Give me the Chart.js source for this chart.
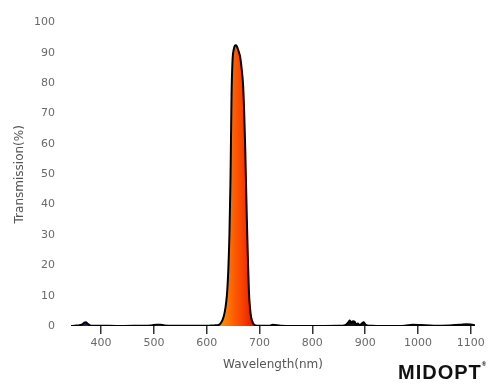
<!DOCTYPE html>
<html>
<head>
<meta charset="utf-8">
<script src="https://cdn.jsdelivr.net/npm/chart.js@4.4.1/dist/chart.umd.min.js"></script>
<style>
  html, body { margin: 0; padding: 0; background: #fff; }
  #wrap { position: relative; width: 500px; height: 388px; }
  #logo {
    position: absolute; left: 398px; top: 361px;
    font-family: "Liberation Sans", Arial, sans-serif; font-weight: bold;
    font-size: 20px; letter-spacing: 1px; color: #111;
  }
  #logo sup { font-size: 6px; vertical-align: top; }
</style>
</head>
<body>
<div id="wrap">
  <canvas id="chart" width="500" height="388"></canvas>
  <div id="logo">MIDOPT<sup>®</sup></div>
</div>
<script>
// courbe de transmission (nm / %)
const wavelengths = [343, 350, 358, 364, 368, 371, 374, 378, 385, 400, 430, 470, 495, 505, 512, 520, 560, 600, 615,
  622, 626, 630, 634, 637, 639, 641, 643, 645, 646, 647, 649, 651, 653, 655, 657, 659, 661, 663, 666, 669,
  671, 673, 674, 676, 678, 680, 682, 684, 687, 691, 700, 720, 725, 740, 800, 850, 862, 868, 871, 874, 877, 880,
  883, 886, 890, 894, 897, 900, 904, 912, 940, 975, 990, 1005, 1030, 1060, 1080, 1092, 1100, 1108];
const transmission = [0, 0.1, 0.2, 0.5, 1.1, 1.2, 0.8, 0.3, 0.1, 0.1, 0, 0.1, 0.2, 0.4, 0.4, 0.2, 0.1, 0.1, 0.2,
  0.3, 0.8, 2, 4.5, 8, 12, 19, 30, 48, 62, 76, 88, 91, 92.3, 92.5, 92.2, 91.3, 90.2, 89, 85, 79,
  70, 58, 50, 35, 22, 11, 6, 3, 1.2, 0.3, 0.1, 0.1, 0.4, 0.1, 0, 0.1, 0.3, 1.2, 1.8, 1.0, 1.6, 1.4,
  0.5, 0.8, 0.3, 0.9, 1.2, 0.6, 0.2, 0.1, 0, 0.1, 0.4, 0.3, 0.1, 0.2, 0.4, 0.6, 0.5, 0.2];
const xTicks = [400, 500, 600, 700, 800, 900, 1000, 1100];

// couleurs du spectre pour le remplissage
const spectrum = [
  [350, '#2a0a5e'], [380, '#3f1888'], [430, '#2a3ad0'], [480, '#0a9ae8'], [515, '#10c050'],
  [560, '#b8e010'], [595, '#ffc000'], [625, '#ff9600'], [650, '#ff6000'], [672, '#f53a00'],
  [690, '#d81800'], [710, '#a00000'], [760, '#111111']
];

function spectrumFill(context) {
  const chart = context.chart;
  if (!chart.chartArea) return null;
  const x = chart.scales.x;
  const a = x.getPixelForValue(350), b = x.getPixelForValue(760);
  const g = chart.ctx.createLinearGradient(a, 0, b, 0);
  spectrum.forEach(function (s) {
    g.addColorStop((s[0] - 350) / 410, s[1]);
  });
  return g;
}

const ctx = document.getElementById('chart').getContext('2d');
new Chart(ctx, {
  type: 'line',
  data: {
    datasets: [{
      data: wavelengths.map(function (w, i) { return { x: w, y: transmission[i] }; }),
      borderColor: '#000',
      borderWidth: 2,
      backgroundColor: spectrumFill,
      fill: 'origin',
      pointRadius: 0,
      tension: 0.4,
      cubicInterpolationMode: 'monotone'
    }]
  },
  options: {
    responsive: false,
    animation: false,
    layout: { padding: { left: 0, right: 25, top: 16, bottom: 0 } },
    plugins: { legend: { display: false }, tooltip: { enabled: false } },
    scales: {
      x: {
        type: 'linear',
        min: 343,
        max: 1108,
        afterBuildTicks: function (scale) {
          scale.ticks = xTicks.map(function (v) { return { value: v }; });
        },
        afterFit: function (scale) { scale.height = 62; },
        border: { display: false },
        grid: { drawOnChartArea: false, drawTicks: true, tickLength: 8, color: '#333', lineWidth: 1.5 },
        ticks: {
          padding: 3, color: '#6a6a6a', font: { family: 'DejaVu Sans', size: 11 }, maxRotation: 0,
          callback: function (v) { return String(v); }
        },
        title: {
          display: true, text: 'Wavelength(nm)', color: '#555',
          font: { family: 'DejaVu Sans', size: 12 }, padding: { top: 4, bottom: 16 }
        }
      },
      y: {
        min: 0,
        max: 100,
        afterFit: function (scale) { scale.width = 71; },
        border: { display: false },
        grid: { display: false, drawTicks: false },
        ticks: { stepSize: 10, padding: 16, color: '#6a6a6a', font: { family: 'DejaVu Sans', size: 11 } },
        title: {
          display: true, text: 'Transmission(%)', color: '#555',
          font: { family: 'DejaVu Sans', size: 12 }, padding: { top: 13, bottom: 4 }
        }
      }
    }
  }
});
</script>
</body>
</html>
